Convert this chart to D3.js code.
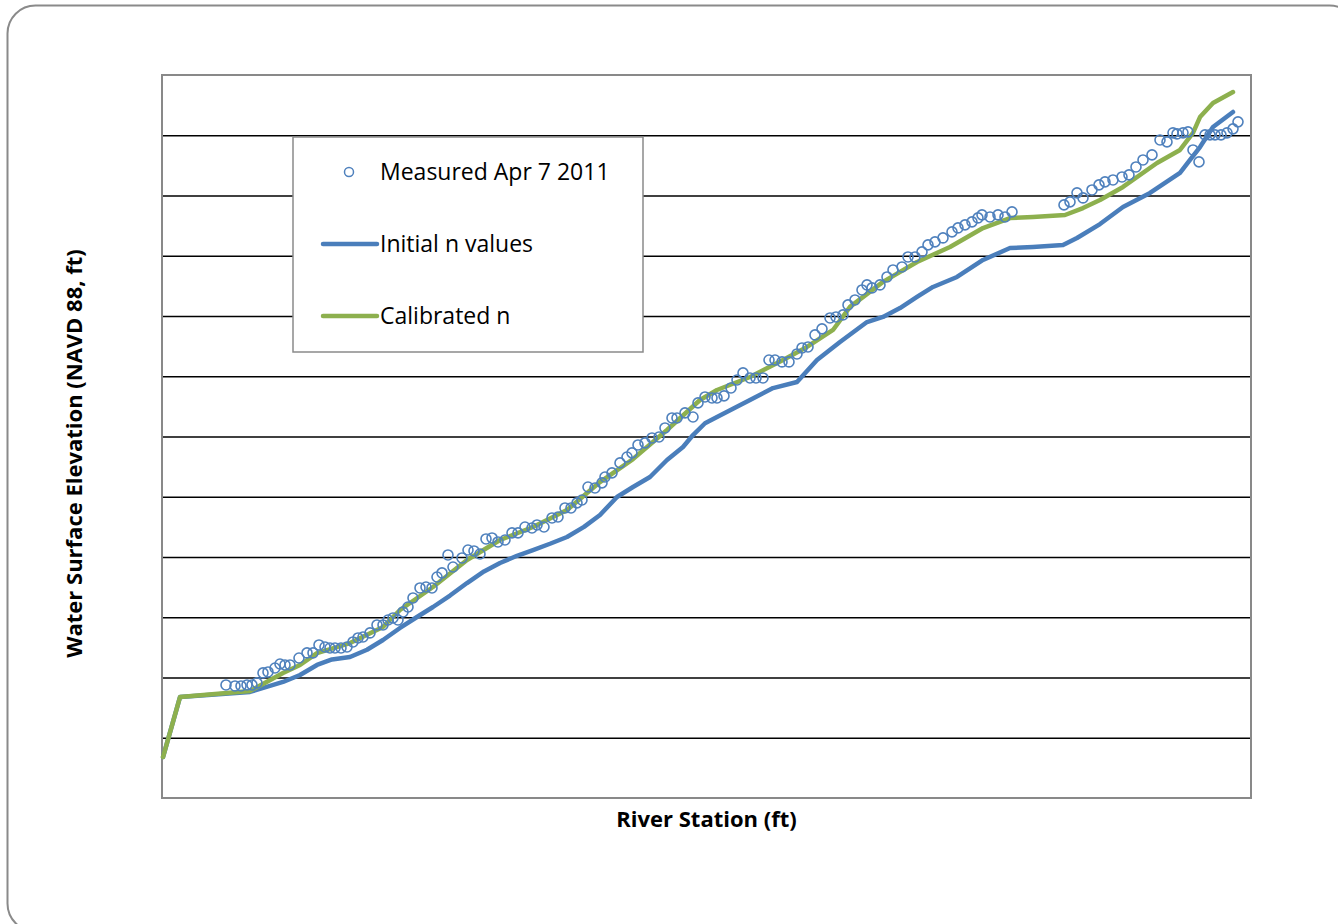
<!DOCTYPE html>
<html>
<head>
<meta charset="utf-8">
<script src="https://cdn.jsdelivr.net/npm/d3@7"></script>
<style>
  html, body { margin: 0; padding: 0; background: #fff; }
  svg { display: block; }
  text { font-family: "Open Sans", "Liberation Sans", sans-serif; fill: #000; }
</style>
</head>
<body>
<svg id="chart" width="1338" height="924"></svg>
<script>
// ---- Data (river station ft, water surface elevation ft) ----
const measuredStation = [6400,7300,7900,8500,9000,9500,10100,10600,11300,11800,12300,12800,13700,14500,15100,15700,16300,16800,17300,17900,18500,19100,19600,20100,20800,21500,22100,22600,23100,23600,24100,24600,25100,25800,26400,27000,27500,28000,28600,29100,30000,30600,31200,31800,32400,33000,33600,34300,35000,35600,36300,37000,37500,38200,39000,39600,40300,40900,41500,42000,42600,43300,44000,44300,45000,45800,46500,47000,47600,48300,49000,49700,50300,51000,51500,52300,53100,53600,54300,55000,55500,56200,56900,57500,58100,58800,59400,60100,60700,61300,62000,62700,63500,64000,64600,65300,66000,66800,67400,68100,68600,69300,70000,70500,71000,71800,72500,73100,74000,74600,75300,76000,76600,77300,78100,79000,79600,80300,81000,81600,82000,82800,83600,84300,85000,90200,90800,91500,92100,93000,93700,94300,95100,96000,96700,97400,98100,99000,99800,100500,101100,101500,102100,102600,103100,103700,104300,104800,105300,105900,106500,107100,107600];
const measuredWSE = [569.38,569.30,569.30,569.38,569.38,569.55,570.38,570.46,570.79,571.12,571.04,571.04,571.62,572.04,572.04,572.70,572.53,572.45,572.45,572.45,572.53,572.95,573.28,573.36,573.70,574.36,574.36,574.77,574.94,574.77,575.44,575.85,576.60,577.43,577.51,577.43,578.34,578.68,580.17,579.17,579.92,580.58,580.50,580.25,581.50,581.58,581.25,581.41,582.00,582.00,582.49,582.41,582.66,582.49,583.24,583.32,584.07,584.07,584.49,584.73,585.81,585.73,586.15,586.64,586.98,587.81,588.30,588.64,589.30,589.47,589.88,589.96,590.71,591.54,591.54,591.96,591.62,592.79,593.28,593.20,593.20,593.37,594.03,594.69,595.28,594.86,594.86,594.86,596.35,596.35,596.19,596.19,596.85,597.35,597.43,598.43,598.93,599.84,599.92,600.09,600.92,601.33,602.16,602.58,602.33,602.58,603.24,603.82,604.07,604.90,604.90,605.32,605.90,606.15,606.48,606.98,607.31,607.56,607.81,608.14,608.39,608.22,608.39,608.22,608.64,609.22,609.47,610.22,609.80,610.46,610.88,611.13,611.29,611.54,611.71,612.37,612.95,613.37,614.61,614.45,615.20,615.11,615.20,615.28,613.78,612.79,615.03,615.03,615.03,615.03,615.20,615.53,616.11];

const initialStation = [100,1800,8800,12100,13800,15500,17000,18800,20500,22100,23800,25500,27100,28800,30500,32200,33800,35500,37100,38800,40500,42200,43800,45500,47100,48800,50500,52100,53100,54300,55500,57100,58800,61100,63500,65500,67800,70500,72100,73800,75500,77100,79500,82100,84800,87100,90100,91500,93800,96100,98800,101800,102800,103800,105100,107100];
const initialWSE = [563.40,568.38,568.80,569.63,570.21,571.04,571.50,571.70,572.30,573.11,574.11,575.02,575.85,576.80,577.84,578.80,579.50,580.10,580.58,581.10,581.66,582.50,583.49,584.98,585.81,586.64,588.05,589.13,590.12,591.10,591.62,592.30,593.03,594.02,594.52,596.35,597.84,599.50,599.92,600.66,601.58,602.41,603.24,604.65,605.64,605.73,605.89,606.47,607.63,609.05,610.21,611.87,612.95,614.02,615.68,616.93];

const calibratedStation = [100,1800,8800,12100,13800,15500,18800,22100,23800,27100,30500,33800,37100,40500,43800,47100,50500,53800,55500,58800,62100,64500,67100,68800,72100,75500,78800,82100,84800,87100,90300,92100,93800,96100,99500,101800,103100,103800,105100,107100];
const calibratedWSE = [563.40,568.38,568.88,570.37,571.04,572.03,572.86,574.19,575.60,577.51,579.75,581.41,582.49,583.90,586.22,588.13,590.54,593.03,593.86,594.94,596.35,597.43,598.84,600.76,602.83,604.48,605.73,607.30,608.13,608.22,608.38,608.96,609.63,610.71,612.70,613.78,615.19,616.51,617.68,618.59];

const yGridValues = [565,570,575,580,585,590,595,600,605,610,615];
const seriesNames = ["Measured Apr 7 2011", "Initial n values", "Calibrated n"];
const xTitle = "River Station (ft)";
const yTitle = "Water Surface Elevation (NAVD 88, ft)";

// ---- Drawing ----
const svg = d3.select("#chart");
const plot = {left: 162, right: 1251, top: 75, bottom: 798};
const colMeasured = "#4F81BD", colInitial = "#4A7EBB", colCal = "#8DB04E";

// outer rounded frame
svg.append("rect").attr("x", 7.5).attr("y", 5.5).attr("width", 1350).attr("height", 926)
  .attr("rx", 28).attr("ry", 28).attr("fill", "#fff").attr("stroke", "#8a8a8a").attr("stroke-width", 2);

const x = d3.scaleLinear().domain([0, 108900]).range([plot.left, plot.right]);
const y = d3.scaleLinear().domain([560, 620]).range([plot.bottom, plot.top]);

// gridlines
svg.append("g").attr("transform", `translate(${plot.left},0)`)
  .call(d3.axisLeft(y).tickValues(yGridValues).tickSize(-(plot.right - plot.left)).tickFormat(""))
  .call(g => g.select(".domain").remove())
  .call(g => g.selectAll(".tick line").attr("stroke", "#000").attr("stroke-width", 1.6));

// plot border
svg.append("rect").attr("x", plot.left).attr("y", plot.top)
  .attr("width", plot.right - plot.left).attr("height", plot.bottom - plot.top)
  .attr("fill", "none").attr("stroke", "#898989").attr("stroke-width", 2);

const line = d3.line().x(d => x(d[0])).y(d => y(d[1]));
const initialData = d3.zip(initialStation, initialWSE);
const calData = d3.zip(calibratedStation, calibratedWSE);

svg.append("path").datum(initialData).attr("d", line).attr("fill", "none")
  .attr("stroke", colInitial).attr("stroke-width", 4.5).attr("stroke-linejoin", "round").attr("stroke-linecap", "round");
svg.append("path").datum(calData).attr("d", line).attr("fill", "none")
  .attr("stroke", colCal).attr("stroke-width", 4.5).attr("stroke-linejoin", "round").attr("stroke-linecap", "round");

svg.append("g").selectAll("circle").data(d3.zip(measuredStation, measuredWSE)).join("circle")
  .attr("cx", d => x(d[0])).attr("cy", d => y(d[1])).attr("r", 5)
  .attr("fill", "none").attr("stroke", colMeasured).attr("stroke-width", 1.6);

// legend
const lg = svg.append("g");
lg.append("rect").attr("x", 293).attr("y", 137).attr("width", 350).attr("height", 215)
  .attr("fill", "#fff").attr("stroke", "#8a8a8a").attr("stroke-width", 1.5);
const legY = [172, 244, 316];
lg.append("circle").attr("cx", 349).attr("cy", legY[0]).attr("r", 4.5)
  .attr("fill", "none").attr("stroke", colMeasured).attr("stroke-width", 1.5);
lg.append("line").attr("x1", 323).attr("x2", 377).attr("y1", legY[1]).attr("y2", legY[1])
  .attr("stroke", colInitial).attr("stroke-width", 4.5).attr("stroke-linecap", "round");
lg.append("line").attr("x1", 323).attr("x2", 377).attr("y1", legY[2]).attr("y2", legY[2])
  .attr("stroke", colCal).attr("stroke-width", 4.5).attr("stroke-linecap", "round");
lg.selectAll("text.leg").data(seriesNames).join("text").attr("class", "leg")
  .attr("x", 380).attr("y", (d, i) => legY[i]).attr("dy", "0.35em")
  .style("font-size", "23px").text(d => d);

// axis titles
svg.append("text").attr("x", (plot.left + plot.right) / 2).attr("y", 819).attr("dy", "0.35em")
  .attr("text-anchor", "middle").style("font-size", "22px").style("font-weight", "bold").text(xTitle);
svg.append("text").attr("transform", `translate(74,${(plot.top + plot.bottom) / 2 + 17}) rotate(-90)`)
  .attr("dy", "0.35em").attr("text-anchor", "middle").style("font-size", "22px").style("font-weight", "bold").text(yTitle);
</script>
</body>
</html>
